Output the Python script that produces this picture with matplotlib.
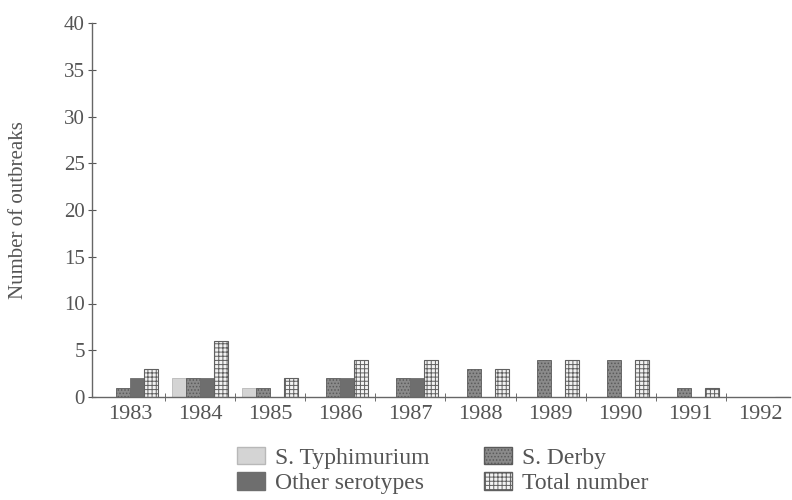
import matplotlib.pyplot as plt
import numpy as np
from matplotlib.patches import Patch

# 年份與各血清型爆發次數
years = ['1983', '1984', '1985', '1986', '1987', '1988', '1989', '1990', '1991', '1992']
typhimurium = [0, 2, 1, 0, 0, 0, 0, 0, 0, 0]
derby = [1, 2, 1, 2, 2, 3, 4, 4, 1, 0]
other = [2, 2, 0, 2, 2, 0, 0, 0, 0, 0]
total = [3, 6, 2, 4, 4, 3, 4, 4, 1, 0]

plt.rcParams['font.family'] = ['Liberation Serif', 'DejaVu Serif']
plt.rcParams['hatch.linewidth'] = 0.7
txt = '#555555'

fig = plt.figure(figsize=(7.92, 5.0), dpi=100)
ax = fig.add_axes([0.116, 0.206, 0.8815, 0.748])

x = np.arange(len(years))
w = 0.2
ax.bar(x - 1.5 * w, typhimurium, w, color='#d4d4d4', edgecolor='#b8b8b8', linewidth=0.6)
ax.bar(x - 0.5 * w, derby, w, color='#8a8a8a', edgecolor='#5a5a5a', hatch='.....', linewidth=0.6)
ax.bar(x + 0.5 * w, other, w, color='#6e6e6e', edgecolor='#6e6e6e', linewidth=0.6)
ax.bar(x + 1.5 * w, total, w, color='#f2f2f2', edgecolor='#606060', hatch='++++', linewidth=0.8)

ax.set_xlim(-0.55, 9.42)
ax.set_ylim(0, 40)
ax.set_yticks(range(0, 41, 5))
ax.set_xticks(x)
ax.set_xticklabels(years)
ax.set_xticks(x[:-1] + 0.5, minor=True)
ax.tick_params(axis='x', which='major', length=0, labelsize=16, colors=txt, pad=6)
ax.tick_params(axis='x', which='minor', direction='inout', length=6, color='#555555')
ax.tick_params(axis='y', direction='inout', length=6, labelsize=15, colors=txt, pad=2)

for s in ['top', 'right']:
    ax.spines[s].set_visible(False)
for s in ['left', 'bottom']:
    ax.spines[s].set_color('#666666')
    ax.spines[s].set_linewidth(1.0)

ax.set_ylabel('Number of outbreaks', fontsize=15, color=txt, labelpad=26)

h1 = [Patch(facecolor='#d4d4d4', edgecolor='#b8b8b8'),
      Patch(facecolor='#6e6e6e', edgecolor='#6e6e6e')]
h2 = [Patch(facecolor='#8a8a8a', edgecolor='#5a5a5a', hatch='.....'),
      Patch(facecolor='#f2f2f2', edgecolor='#606060', hatch='++++')]
kw = dict(loc='upper left', frameon=False, fontsize=17, handlelength=1.2,
          handleheight=0.75, handletextpad=0.4, labelspacing=0.15,
          borderaxespad=0, borderpad=0, labelcolor=txt)
leg1 = fig.legend(h1, ['S. Typhimurium', 'Other serotypes'],
                  bbox_to_anchor=(237 / 792, 1 - 447 / 500), **kw)
leg2 = fig.legend(h2, ['S. Derby', 'Total number'],
                  bbox_to_anchor=(484 / 792, 1 - 447 / 500), **kw)

fig.savefig('out.png', dpi=100)
